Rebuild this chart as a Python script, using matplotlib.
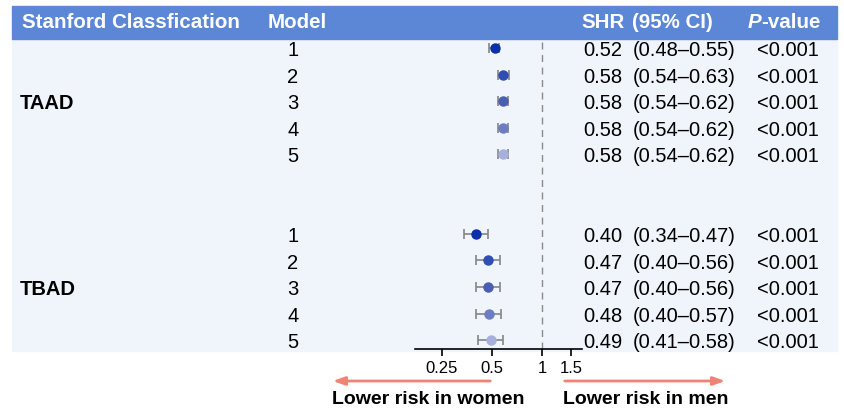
import numpy as np
import matplotlib
matplotlib.use('Agg')
import matplotlib.pyplot as plt
from matplotlib import transforms
from matplotlib.patches import Rectangle

plt.rcParams['font.family'] = ['Liberation Sans', 'DejaVu Sans']

# data
groups = ['TAAD', 'TBAD']
models = [1, 2, 3, 4, 5]
shr = {'TAAD': [0.52, 0.58, 0.58, 0.58, 0.58],
       'TBAD': [0.40, 0.47, 0.47, 0.48, 0.49]}
lo = {'TAAD': [0.48, 0.54, 0.54, 0.54, 0.54],
      'TBAD': [0.34, 0.40, 0.40, 0.40, 0.41]}
hi = {'TAAD': [0.55, 0.63, 0.62, 0.62, 0.62],
      'TBAD': [0.47, 0.56, 0.56, 0.57, 0.58]}
pvals = ['<0.001'] * 5
xticks = [0.25, 0.5, 1, 1.5]
xtick_labels = ['0.25', '0.5', '1', '1.5']

# model colours, dark -> light
cols = ['#0b2fa8', '#2f4db2', '#4a5eb2', '#6d7dc2', '#a7b0dd']
header_col = '#5b87d6'
bg_col = '#f0f5fb'
W, H = 844, 410

fig = plt.figure(figsize=(W / 100, H / 100), dpi=100)


def fx(px):
    return px / W


def fy(py):
    return 1 - py / H


# row positions: two blank rows between the groups
row_y = {'TAAD': np.arange(5), 'TBAD': np.arange(5) + 7}
row0_px, row_step = 49, 26.55
top_px, bot_px = 40, 350
y_top = (top_px - row0_px) / row_step
y_bot = (bot_px - row0_px) / row_step

# background + header band (behind the axes)
fig.patches.append(Rectangle((fx(12), fy(352)), fx(837) - fx(12), fy(40) - fy(352),
                             transform=fig.transFigure, color=bg_col, zorder=-2))
fig.patches.append(Rectangle((fx(12), fy(40)), fx(837) - fx(12), fy(7) - fy(40),
                             transform=fig.transFigure, color=header_col, zorder=-2))

ax = fig.add_axes([fx(415), fy(bot_px), fx(582) - fx(415), fy(top_px) - fy(bot_px)])
ax.patch.set_alpha(0)
ax.set_xscale('log')
ax.set_xlim(0.172, 1.74)
ax.set_ylim(y_bot, y_top)

for g in groups:
    for i in range(5):
        y = row_y[g][i]
        ax.errorbar(shr[g][i], y, xerr=[[shr[g][i] - lo[g][i]], [hi[g][i] - shr[g][i]]],
                    fmt='o', color=cols[i], ms=6.5, ecolor='#858585', elinewidth=1.2,
                    capsize=3.5, capthick=1.2, zorder=3)

ax.axvline(1, color='#8a8a8a', lw=1, ls=(0, (5, 4)), zorder=1)

for s in ['top', 'right', 'left']:
    ax.spines[s].set_visible(False)
ax.spines['bottom'].set_linewidth(1.2)
ax.set_yticks([])
ax.set_xticks(xticks)
ax.set_xticklabels(xtick_labels)
ax.xaxis.set_minor_locator(matplotlib.ticker.NullLocator())
ax.tick_params(axis='x', direction='out', length=5, width=1.2, labelsize=12, pad=3)

# table text, baseline placed so the digits sit centred on the row
fs = 14.5
shift = transforms.ScaledTranslation(0, -0.072, fig.dpi_scale_trans)
trans = transforms.blended_transform_factory(fig.transFigure, ax.transData) + shift
hdr = dict(color='white', fontsize=14.8, fontweight='bold', va='center', transform=fig.transFigure)
fig.text(fx(22), fy(23), 'Stanford Classfication', **hdr)
fig.text(fx(268), fy(23), 'Model', **hdr)
fig.text(fx(581), fy(23), 'SHR', **hdr)
fig.text(fx(632), fy(23), '(95% CI)', **hdr)
fig.text(fx(748), fy(23), 'P', fontstyle='italic', **hdr)
fig.text(fx(761), fy(23), '-value', **hdr)

for g in groups:
    ys = row_y[g]
    fig.text(fx(20), ys[2], g, transform=trans, fontsize=fs, fontweight='bold', va='baseline')
    for i in range(5):
        fig.text(fx(293), ys[i], str(models[i]), transform=trans, fontsize=fs, va='baseline', ha='center')
        fig.text(fx(583), ys[i], '%.2f' % shr[g][i], transform=trans, fontsize=fs, va='baseline')
        fig.text(fx(633), ys[i], '(%.2f\u2013%.2f)' % (lo[g][i], hi[g][i]), transform=trans,
                 fontsize=fs, va='baseline')
        fig.text(fx(757), ys[i], pvals[i], transform=trans, fontsize=fs, va='baseline')

# direction arrows
arr = dict(arrowstyle='-|>,head_length=0.7,head_width=0.25', color='#f08474', lw=2)
ax.annotate('', xy=(fx(330), fy(382)), xytext=(fx(493), fy(382)), xycoords='figure fraction',
            textcoords='figure fraction', arrowprops=arr, annotation_clip=False)
ax.annotate('', xy=(fx(728), fy(382)), xytext=(fx(562), fy(382)), xycoords='figure fraction',
            textcoords='figure fraction', arrowprops=arr, annotation_clip=False)
fig.text(fx(428), fy(400), 'Lower risk in women', fontsize=14, fontweight='bold', ha='center', va='center')
fig.text(fx(646), fy(400), 'Lower risk in men', fontsize=14, fontweight='bold', ha='center', va='center')

fig.savefig('out.png', dpi=100)
